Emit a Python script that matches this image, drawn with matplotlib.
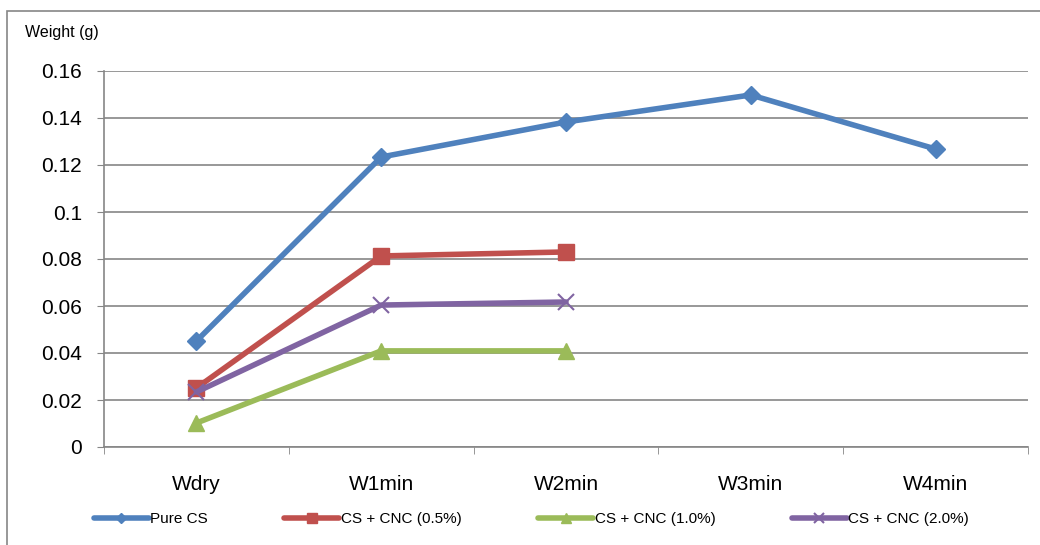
import matplotlib.pyplot as plt
from matplotlib.patches import Rectangle
import numpy as np

plt.rcParams['font.family'] = ['Liberation Sans Narrow', 'Liberation Sans', 'DejaVu Sans']

# data
categories = ["Wdry", "W1min", "W2min", "W3min", "W4min"]
pure_cs = [0.0451, 0.1234, 0.1383, 0.1498, 0.1268]
cnc_05 = [0.0251, 0.0813, 0.0830]
cnc_10 = [0.0102, 0.0409, 0.0409]
cnc_20 = [0.0234, 0.0604, 0.0617]

series = [
    ("Pure CS", pure_cs, "#4F81BD", "D", 9),
    ("CS + CNC (0.5%)", cnc_05, "#C0504D", "s", 11),
    ("CS + CNC (1.0%)", cnc_10, "#9BBB59", "^", 12),
    ("CS + CNC (2.0%)", cnc_20, "#8064A2", "x", 11),
]

fig = plt.figure(figsize=(10.4, 5.45), dpi=100)
ax = fig.add_axes([104 / 1040, 1 - 447 / 545, 924 / 1040, 376 / 545])

x = np.arange(len(categories))
for name, vals, color, marker, ms in series:
    xs = x[:len(vals)]
    if marker == "x":
        ax.plot(xs, vals, color=color, lw=4, marker=marker, ms=ms, mew=1.5,
                label=name, solid_capstyle="round")
    else:
        ax.plot(xs, vals, color=color, lw=4, marker=marker, ms=ms,
                label=name, solid_capstyle="round")

ax.set_xlim(-0.5, len(categories) - 0.5)
ax.set_ylim(0, 0.16)
ax.set_yticks(np.arange(0, 0.161, 0.02))
ax.set_yticklabels(["0", "0.02", "0.04", "0.06", "0.08", "0.1", "0.12", "0.14", "0.16"],
                   fontsize=15)
ax.set_xticks(x)
ax.set_xticklabels(categories, fontsize=15)
ax.set_xticks(np.arange(-0.5, len(categories)), minor=True)
ax.tick_params(axis="x", which="major", length=0, pad=20)
ax.tick_params(axis="x", which="minor", length=5, color="#868686", direction="out")
ax.tick_params(axis="y", length=5, color="#868686", pad=11)
ax.grid(axis="y", color="#868686", lw=1.2)
ax.set_axisbelow(True)
for s in ["top", "right"]:
    ax.spines[s].set_visible(False)
ax.spines["left"].set_color("#868686")
ax.spines["bottom"].set_color("#868686")
ax.spines["left"].set_linewidth(1.2)
ax.spines["bottom"].set_linewidth(1.2)

fig.text(25 / 1040, 1 - 33 / 545, "Weight (g)", fontsize=11.5, va="center")

fig.legend(loc="center", bbox_to_anchor=(0.511, 1 - 519 / 545), ncol=4, frameon=False,
           fontsize=11, handlelength=3.6, columnspacing=5.0, handletextpad=0.1,
           markerscale=0.6)

fig.patches.append(Rectangle((7 / 1040, -0.05), 1, 1.05 - 11 / 545, transform=fig.transFigure,
                             fill=False, edgecolor="#868686", lw=1.2))

fig.savefig("out.png", dpi=100)
